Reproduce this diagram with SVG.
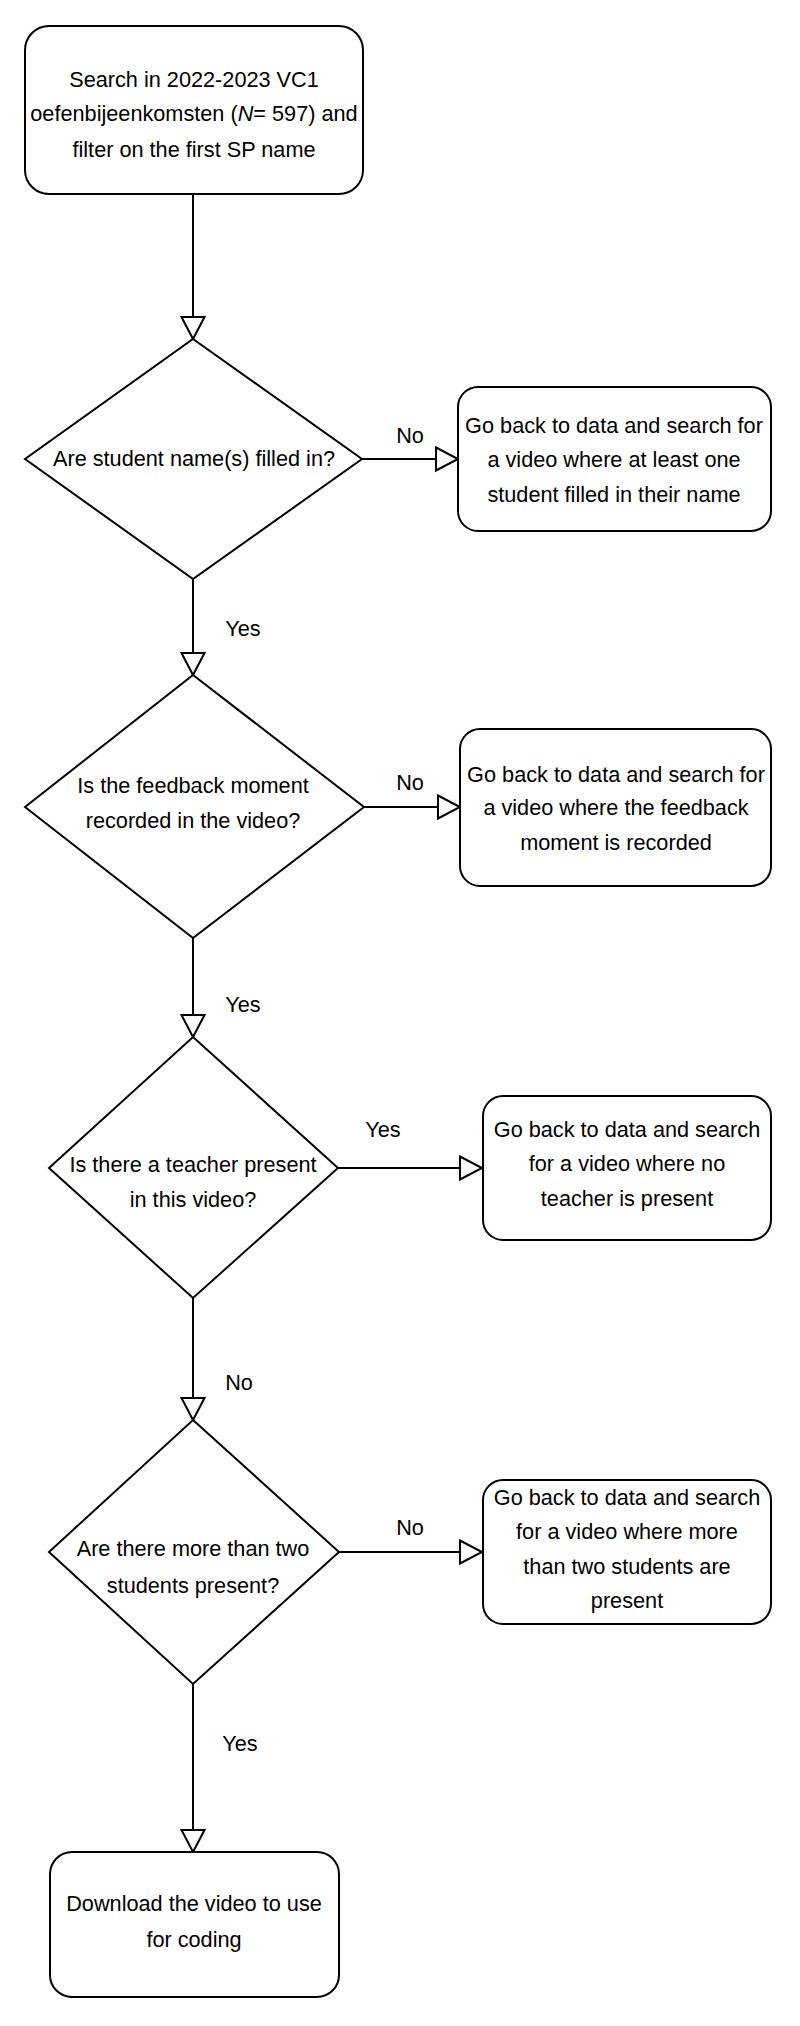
<svg xmlns="http://www.w3.org/2000/svg" width="800" height="2026" viewBox="0 0 800 2026">
<style>
.box{fill:#fff;stroke:#000;stroke-width:2}
.dia{fill:#fff;stroke:#000;stroke-width:2;stroke-linejoin:miter}
.t{font-family:"Liberation Sans",Arial,sans-serif;font-size:21.7px;fill:#000;text-anchor:middle}
.lbl{font-family:"Liberation Sans",Arial,sans-serif;font-size:21.7px;fill:#000;text-anchor:middle}
.conn{fill:none;stroke:#000;stroke-width:2;marker-end:url(#arr)}
</style>
<defs>
<marker id="arr" markerUnits="userSpaceOnUse" markerWidth="26" markerHeight="27" refX="23" refY="12.5" orient="auto" viewBox="0 0 26 25">
<path d="M1,1 L23,12.5 L1,24 Z" fill="#fff" stroke="#000" stroke-width="2"/>
</marker>
</defs>
<rect width="800" height="2026" fill="#fff"/>
<g id="connectors">
<path class="conn" d="M193,194 V339"/>
<path class="conn" d="M193,579 V675"/>
<path class="conn" d="M193,938 V1037"/>
<path class="conn" d="M193,1298 V1420"/>
<path class="conn" d="M193,1684 V1852"/>
<path class="conn" d="M362,459 H458"/>
<path class="conn" d="M364,807 H460"/>
<path class="conn" d="M338,1168 H482"/>
<path class="conn" d="M339,1552 H482"/>
<text class="lbl" x="410" y="443">No</text>
<text class="lbl" x="243" y="636">Yes</text>
<text class="lbl" x="410" y="790">No</text>
<text class="lbl" x="243" y="1012">Yes</text>
<text class="lbl" x="383" y="1137">Yes</text>
<text class="lbl" x="239" y="1390">No</text>
<text class="lbl" x="410" y="1535">No</text>
<text class="lbl" x="240" y="1751">Yes</text>
</g>
<g id="start">
<rect class="box" x="25" y="26" width="338" height="168" rx="24"/>
<text class="t" x="194" y="87">Search in 2022-2023 VC1</text>
<text class="t" x="194" y="121">oefenbijeenkomsten (<tspan font-style="italic">N</tspan>= 597) and</text>
<text class="t" x="194" y="157">filter on the first SP name</text>
</g>
<g id="d1">
<polygon class="dia" points="193,339 362,459 193,579 25,459"/>
<text class="t" x="194" y="466">Are student name(s) filled in?</text>
</g>
<g id="b1">
<rect class="box" x="458" y="387" width="313" height="144" rx="20"/>
<text class="t" x="614" y="433">Go back to data and search for</text>
<text class="t" x="614" y="467">a video where at least one</text>
<text class="t" x="614" y="502">student filled in their name</text>
</g>
<g id="d2">
<polygon class="dia" points="193,675 364,807 193,938 25,807"/>
<text class="t" x="193" y="793">Is the feedback moment</text>
<text class="t" x="193" y="828">recorded in the video?</text>
</g>
<g id="b2">
<rect class="box" x="460" y="729" width="311" height="157" rx="20"/>
<text class="t" x="616" y="782">Go back to data and search for</text>
<text class="t" x="616" y="815">a video where the feedback</text>
<text class="t" x="616" y="850">moment is recorded</text>
</g>
<g id="d3">
<polygon class="dia" points="193,1037 338,1168 193,1298 49,1168"/>
<text class="t" x="193" y="1172">Is there a teacher present</text>
<text class="t" x="193" y="1207">in this video?</text>
</g>
<g id="b3">
<rect class="box" x="483" y="1096" width="288" height="144" rx="20"/>
<text class="t" x="627" y="1137">Go back to data and search</text>
<text class="t" x="627" y="1171">for a video where no</text>
<text class="t" x="627" y="1206">teacher is present</text>
</g>
<g id="d4">
<polygon class="dia" points="193,1420 339,1552 193,1684 49,1552"/>
<text class="t" x="193" y="1556">Are there more than two</text>
<text class="t" x="193" y="1593">students present?</text>
</g>
<g id="b4">
<rect class="box" x="483" y="1480" width="288" height="144" rx="20"/>
<text class="t" x="627" y="1505">Go back to data and search</text>
<text class="t" x="627" y="1539">for a video where more</text>
<text class="t" x="627" y="1574">than two students are</text>
<text class="t" x="627" y="1608">present</text>
</g>
<g id="end">
<rect class="box" x="50" y="1852" width="289" height="145" rx="22"/>
<text class="t" x="194" y="1911">Download the video to use</text>
<text class="t" x="194" y="1947">for coding</text>
</g>
</svg>
